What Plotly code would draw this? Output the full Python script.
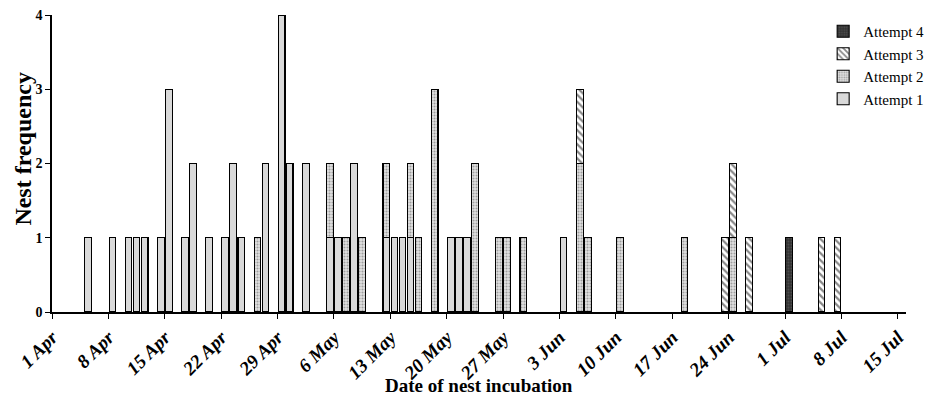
import plotly.graph_objects as go

# ---- data ----
dates = ["2013-04-05", "2013-04-08", "2013-04-10", "2013-04-11", "2013-04-12",
         "2013-04-14", "2013-04-15", "2013-04-17", "2013-04-18", "2013-04-20",
         "2013-04-22", "2013-04-23", "2013-04-24", "2013-04-26", "2013-04-27",
         "2013-04-29", "2013-04-30", "2013-05-02", "2013-05-05", "2013-05-06",
         "2013-05-07", "2013-05-08", "2013-05-09", "2013-05-12", "2013-05-13",
         "2013-05-14", "2013-05-15", "2013-05-16", "2013-05-18", "2013-05-20",
         "2013-05-21", "2013-05-22", "2013-05-23", "2013-05-26", "2013-05-27",
         "2013-05-29", "2013-06-03", "2013-06-05", "2013-06-06", "2013-06-10",
         "2013-06-18", "2013-06-23", "2013-06-24", "2013-06-26", "2013-07-01",
         "2013-07-05", "2013-07-07"]
attempt1 = [1, 1, 1, 1, 1, 1, 3, 1, 2, 1, 1, 2, 1, 0, 2, 4, 2, 2, 1, 1,
            0, 2, 0, 1, 1, 1, 1, 0, 0, 1, 1, 1, 0, 0, 0, 0, 1, 0, 0, 0,
            0, 0, 0, 0, 0, 0, 0]
attempt2 = [0, 0, 0, 0, 0, 0, 0, 0, 0, 0, 0, 0, 0, 1, 0, 0, 0, 0, 1, 0,
            1, 0, 1, 1, 0, 0, 1, 1, 3, 0, 0, 0, 2, 1, 1, 1, 0, 2, 1, 1,
            1, 0, 1, 0, 0, 0, 0]
attempt3 = [0, 0, 0, 0, 0, 0, 0, 0, 0, 0, 0, 0, 0, 0, 0, 0, 0, 0, 0, 0,
            0, 0, 0, 0, 0, 0, 0, 0, 0, 0, 0, 0, 0, 0, 0, 0, 0, 1, 0, 0,
            0, 1, 1, 1, 0, 1, 1]
attempt4 = [0, 0, 0, 0, 0, 0, 0, 0, 0, 0, 0, 0, 0, 0, 0, 0, 0, 0, 0, 0,
            0, 0, 0, 0, 0, 0, 0, 0, 0, 0, 0, 0, 0, 0, 0, 0, 0, 0, 0, 0,
            0, 0, 0, 0, 1, 0, 0]

tick_dates = ["2013-04-01", "2013-04-08", "2013-04-15", "2013-04-22", "2013-04-29",
              "2013-05-06", "2013-05-13", "2013-05-20", "2013-05-27", "2013-06-03",
              "2013-06-10", "2013-06-17", "2013-06-24", "2013-07-01", "2013-07-08",
              "2013-07-15"]
tick_labels = ["1 Apr", "8 Apr", "15 Apr", "22 Apr", "29 Apr", "6 May", "13 May",
               "20 May", "27 May", "3 Jun", "10 Jun", "17 Jun", "24 Jun", "1 Jul",
               "8 Jul", "15 Jul"]

x_title = "Date of nest incubation"
y_title = "Nest frequency"

DAY = 86400000
SERIF = "Liberation Serif, Times New Roman, serif"

styles = {
    "Attempt 1": dict(color="#d9d9d9", pattern=dict(shape="")),
    "Attempt 2": dict(color="#dcdcdc",
                      pattern=dict(shape=".", fgcolor="#5a5a5a", bgcolor="#e2e2e2",
                                   size=3, solidity=0.4)),
    "Attempt 3": dict(color="white",
                      pattern=dict(shape="\\", fgcolor="#111111", bgcolor="white",
                                   size=5, solidity=0.45)),
    "Attempt 4": dict(color="#3a3a3a",
                      pattern=dict(shape=".", fgcolor="#6a6a6a", bgcolor="#333333",
                                   size=3, solidity=0.3)),
}

fig = go.Figure()
for name, vals in [("Attempt 1", attempt1), ("Attempt 2", attempt2),
                   ("Attempt 3", attempt3), ("Attempt 4", attempt4)]:
    st = styles[name]
    fig.add_trace(go.Bar(
        x=dates, y=vals, name=name,
        xperiod=DAY, xperiodalignment="middle",
        width=0.83 * DAY,
        marker=dict(color=st["color"], pattern=st["pattern"],
                    line=dict(color="black", width=1.1)),
    ))

fig.update_layout(
    barmode="stack",
    width=925, height=394,
    margin=dict(l=44, r=27, t=7, b=90, autoexpand=False),
    plot_bgcolor="white", paper_bgcolor="white",
    font=dict(family=SERIF, color="black"),
    legend=dict(traceorder="reversed", x=0.903, y=1.0, xanchor="left", yanchor="top",
                font=dict(family=SERIF, size=15, color="black"),
                itemwidth=30, tracegroupgap=0, bgcolor="rgba(0,0,0,0)"),
    xaxis=dict(
        type="date", automargin=False,
        range=["2013-04-01", "2013-07-16"],
        tickmode="array", tickvals=tick_dates, ticktext=tick_labels,
        tickangle=-45, ticklabeloverflow="allow",
        tickfont=dict(family=SERIF, size=19, color="black", weight="bold", style="italic"),
        ticks="outside", ticklen=5, tickwidth=1.3, tickcolor="black",
        showline=True, linecolor="black", linewidth=1.5,
        showgrid=False, zeroline=False,
    ),
    yaxis=dict(
        range=[0, 4], dtick=1, automargin=False, ticklabeloverflow="allow",
        tickfont=dict(family=SERIF, size=14, color="black", weight="bold"),
        ticks="outside", ticklen=5, tickwidth=1.3, tickcolor="black",
        showline=True, linecolor="black", linewidth=1.5,
        showgrid=False, zeroline=False,
    ),
    annotations=[
        dict(text="<b>" + x_title + "</b>", xref="paper", yref="paper",
             x=0.5, y=-0.247, xanchor="center", yanchor="middle", showarrow=False,
             font=dict(family=SERIF, size=19, color="black")),
        dict(text="<b>" + y_title + "</b>", xref="paper", yref="paper",
             x=-0.034, y=0.55, xanchor="center", yanchor="middle", showarrow=False,
             textangle=-90, borderpad=0,
             font=dict(family=SERIF, size=24, color="black")),
    ],
)

fig.write_html("out.html")
